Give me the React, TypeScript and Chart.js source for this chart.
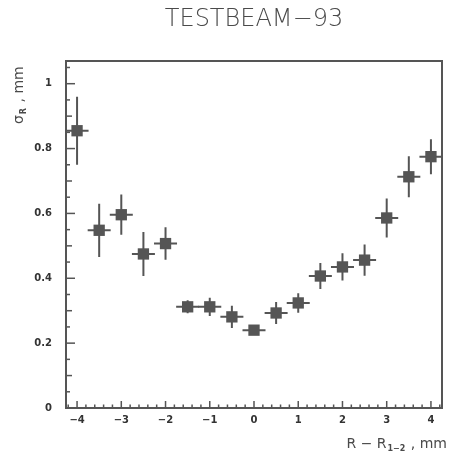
import React, { useEffect, useRef } from "react";
import { Chart, registerables } from "chart.js";

Chart.register(...registerables);

const xValues = [-4, -3.5, -3, -2.5, -2, -1.5, -1, -0.5, 0, 0.5, 1, 1.5, 2, 2.5, 3, 3.5, 4];
const yValues = [0.855, 0.548, 0.596, 0.475, 0.507, 0.312, 0.312, 0.281, 0.24, 0.293, 0.324, 0.407, 0.435, 0.456, 0.586, 0.713, 0.775];
const yErrors = [0.105, 0.082, 0.062, 0.068, 0.05, 0.02, 0.028, 0.034, 0.012, 0.034, 0.03, 0.04, 0.042, 0.048, 0.06, 0.063, 0.054];
const xHalfWidths = [0.26, 0.26, 0.26, 0.26, 0.26, 0.26, 0.26, 0.26, 0.26, 0.26, 0.26, 0.26, 0.26, 0.26, 0.26, 0.26, 0.26];

const titleText = "TESTBEAM\u221293";
const xTickValues = [-4, -3, -2, -1, 0, 1, 2, 3, 4];
const yTickValues = [0, 0.2, 0.4, 0.6, 0.8, 1];

const INK = "#555555";
const FONT = "'DejaVu Sans', sans-serif";

const decorPlugin = {
  id: "decor",
  beforeDatasetsDraw(chart: any) {
    const { ctx, chartArea, scales } = chart;
    const xs = scales.x;
    const ys = scales.y;
    ctx.save();
    // frame
    ctx.strokeStyle = INK;
    ctx.lineWidth = 2;
    ctx.strokeRect(chartArea.left, chartArea.top, chartArea.right - chartArea.left, chartArea.bottom - chartArea.top);
    // inward ticks, x
    ctx.lineWidth = 1.5;
    for (let i = -21; i <= 21; i++) {
      const v = i / 5;
      const px = xs.getPixelForValue(v);
      const len = i % 5 === 0 ? 7 : 3.5;
      ctx.beginPath();
      ctx.moveTo(px, chartArea.bottom);
      ctx.lineTo(px, chartArea.bottom - len);
      ctx.stroke();
    }
    // inward ticks, y
    for (let i = 0; i <= 21; i++) {
      const v = i * 0.05;
      const py = ys.getPixelForValue(v);
      const len = i % 4 === 0 ? 9 : i % 2 === 0 ? 6 : 4;
      ctx.beginPath();
      ctx.moveTo(chartArea.left, py);
      ctx.lineTo(chartArea.left + len, py);
      ctx.stroke();
    }
    // error bars
    ctx.lineWidth = 2;
    ctx.strokeStyle = INK;
    for (let i = 0; i < xValues.length; i++) {
      const px = xs.getPixelForValue(xValues[i]);
      const py = ys.getPixelForValue(yValues[i]);
      const y1 = ys.getPixelForValue(yValues[i] - yErrors[i]);
      const y2 = ys.getPixelForValue(yValues[i] + yErrors[i]);
      const x1 = Math.max(chartArea.left, xs.getPixelForValue(xValues[i] - xHalfWidths[i]));
      const x2 = Math.min(chartArea.right, xs.getPixelForValue(xValues[i] + xHalfWidths[i]));
      ctx.beginPath();
      ctx.moveTo(px, y1);
      ctx.lineTo(px, y2);
      ctx.moveTo(x1, py);
      ctx.lineTo(x2, py);
      ctx.stroke();
    }
    ctx.restore();
  },
  afterDraw(chart: any) {
    const { ctx, chartArea } = chart;
    ctx.save();
    ctx.fillStyle = "#4a4a4a";
    // title
    ctx.font = `200 24px ${FONT}`;
    ctx.textAlign = "center";
    ctx.textBaseline = "alphabetic";
    ctx.fillText(titleText, (chartArea.left + chartArea.right) / 2, 26);

    // x-axis title: R − R_{1−2} , mm
    const big = `14px ${FONT}`;
    const small = `bold 8px ${FONT}`;
    const p1 = "R \u2212 R";
    const p2 = "1\u22122";
    const p3 = " , mm";
    ctx.textAlign = "left";
    ctx.font = big;
    const w1 = ctx.measureText(p1).width;
    const w3 = ctx.measureText(p3).width;
    ctx.font = small;
    const w2 = ctx.measureText(p2).width;
    const total = w1 + w2 + w3 + 2;
    let x0 = 447 - total;
    const base = 448;
    ctx.font = big;
    ctx.fillText(p1, x0, base);
    x0 += w1 + 1;
    ctx.font = small;
    ctx.fillText(p2, x0, base + 3);
    x0 += w2 + 1;
    ctx.font = big;
    ctx.fillText(p3, x0, base);

    // y-axis title: σ_R , mm (rotated)
    ctx.translate(23, 124);
    ctx.rotate(-Math.PI / 2);
    let t = 0;
    ctx.font = big;
    ctx.fillText("\u03c3", t, 0);
    t += ctx.measureText("\u03c3").width + 1;
    ctx.font = small;
    ctx.fillText("R", t, 3);
    t += ctx.measureText("R").width + 1;
    ctx.font = big;
    ctx.fillText(" , mm", t, 0);
    ctx.restore();
  },
};

export default function App() {
  const canvasRef = useRef<HTMLCanvasElement | null>(null);

  useEffect(() => {
    if (!canvasRef.current) return;
    const data = xValues.map((x, i) => ({ x, y: yValues[i] }));
    const chart = new Chart(canvasRef.current, {
      type: "scatter",
      data: {
        datasets: [
          {
            data,
            pointStyle: "rect",
            pointRadius: 8,
            pointHoverRadius: 8,
            backgroundColor: INK,
            borderColor: INK,
            borderWidth: 0,
          },
        ],
      },
      plugins: [decorPlugin],
      options: {
        responsive: false,
        animation: false,
        events: [],
        layout: { padding: { top: 61, right: 2, left: 0, bottom: 0 } },
        plugins: {
          legend: { display: false },
          title: { display: false },
          tooltip: { enabled: false },
        },
        scales: {
          x: {
            type: "linear",
            min: -4.25,
            max: 4.25,
            afterBuildTicks(scale: any) {
              scale.ticks = xTickValues.map((v) => ({ value: v }));
            },
            afterFit(scale: any) {
              scale.height = 51;
            },
            grid: { display: false, drawTicks: false },
            border: { display: false },
            ticks: {
              padding: 6,
              color: "#333",
              font: { family: "'DejaVu Sans', sans-serif", size: 10, weight: "bold" },
              maxRotation: 0,
              autoSkip: false,
              callback: (v: any) => (Number(v) < 0 ? "\u2212" + Math.abs(Number(v)) : String(v)),
            },
          },
          y: {
            type: "linear",
            min: 0,
            max: 1.07,
            afterBuildTicks(scale: any) {
              scale.ticks = yTickValues.map((v) => ({ value: v }));
            },
            afterFit(scale: any) {
              scale.width = 66;
            },
            grid: { display: false, drawTicks: false },
            border: { display: false },
            ticks: {
              padding: 14,
              color: "#333",
              font: { family: "'DejaVu Sans', sans-serif", size: 10, weight: "bold" },
              autoSkip: false,
              callback: (v: any) => String(Math.round(Number(v) * 10) / 10),
            },
          },
        },
      },
    });
    return () => chart.destroy();
  }, []);

  return (
    <div style={{ position: "fixed", left: 0, top: 0, width: 450, height: 459, background: "#fff" }}>
      <canvas ref={canvasRef} width={450} height={459} style={{ width: 450, height: 459 }} />
    </div>
  );
}
